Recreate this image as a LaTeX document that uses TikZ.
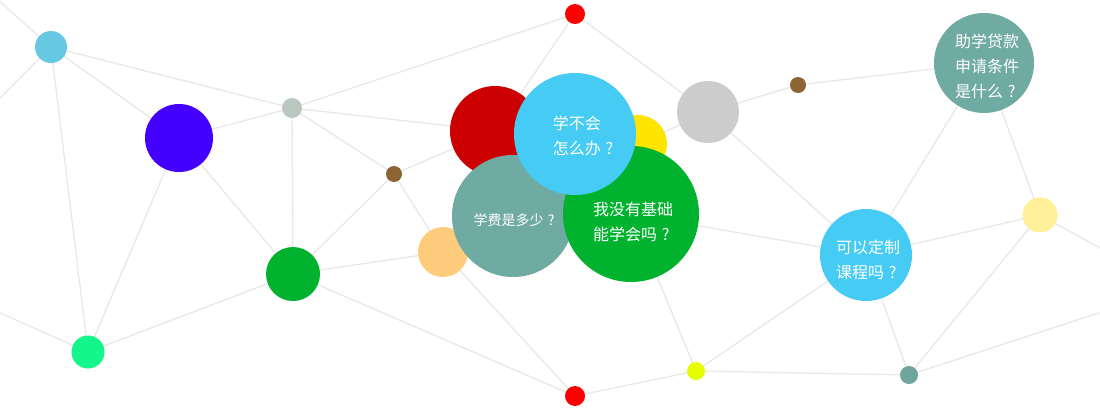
\documentclass[tikz,border=0pt]{standalone}
\usepackage{fontspec}
\newfontfamily\cjk{Noto Sans CJK SC}
\pgfdeclarelayer{bg}
\pgfdeclarelayer{edges}
\pgfsetlayers{bg,edges,main}
\definecolor{cA}{RGB}{102,200,226}
\definecolor{cB}{RGB}{68,0,255}
\definecolor{cC}{RGB}{184,200,192}
\definecolor{cBrown}{RGB}{139,101,52}
\definecolor{cGreen}{RGB}{0,178,46}
\definecolor{cMint}{RGB}{20,245,140}
\definecolor{cOrange}{RGB}{255,203,125}
\definecolor{cRed}{RGB}{255,0,0}
\definecolor{cDarkRed}{RGB}{204,0,0}
\definecolor{cYellow}{RGB}{255,228,0}
\definecolor{cCyan}{RGB}{69,203,244}
\definecolor{cTeal}{RGB}{111,171,163}
\definecolor{cGray}{RGB}{204,204,204}
\definecolor{cLime}{RGB}{229,255,0}
\definecolor{cPale}{RGB}{255,240,154}
\definecolor{cTealS}{RGB}{111,165,156}
\definecolor{cLine}{RGB}{232,232,232}
\newcommand\qm{\hspace{0.3em}?}
\tikzset{
  dot/.style args={#1/#2}{circle,fill=#1,draw=none,inner sep=0pt,minimum size=#2},
  link/.style={draw=cLine,line width=1.3pt},
  qtext/.style={text=white,align=left,inner sep=0pt,font=\cjk\fontsize{16}{25}\selectfont},
  qsmall/.style={text=white,align=left,inner sep=0pt,font=\cjk\fontsize{14}{20}\selectfont}
}
\begin{document}
\begin{tikzpicture}[x=1pt,y=-1pt]
\useasboundingbox (0,0) rectangle (1100,410);
\begin{pgfonlayer}{bg}
\fill[white] (0,0) rectangle (1100,410);
\end{pgfonlayer}
% small / plain circles
\node[dot=cA/32pt] (A) at (51,47) {};
\node[dot=cB/68pt] (B) at (179,138) {};
\node[dot=cC/20pt] (C) at (292,108) {};
\node[dot=cBrown/16pt] (D) at (394,174) {};
\node[dot=cGreen/54pt] (E) at (293,274) {};
\node[dot=cMint/33pt] (F) at (88,352) {};
\node[dot=cOrange/50pt] (G) at (443,252) {};
\node[dot=cRed/20pt] (H) at (575,14) {};
\node[dot=cGray/62pt] (N) at (708,112) {};
\node[dot=cRed/20pt] (O) at (575,396) {};
\node[dot=cLime/18pt] (P) at (696,371) {};
\node[dot=cBrown/16pt] (Q) at (798,85) {};
\node[dot=cPale/35pt] (T) at (1040,215) {};
\node[dot=cTealS/18pt] (U) at (909,375) {};
\node[dot=cTeal/100pt] (R) at (984,63) {};
\node[dot=cCyan/92pt] (S) at (866,255) {};
% cluster
\node[dot=cDarkRed/90pt] (I) at (495,131) {};
\node[dot=cYellow/58pt] (J) at (638,144) {};
\node[dot=cTeal/122pt] (L) at (513,216) {};
\node[dot=cGreen/136pt] (M) at (631,214) {};
\node[dot=cCyan/122pt] (K) at (575,134) {};
% texts
\node[qtext] (Kt) at (583,136) {学不会\\怎么办\qm};
\node[qtext] (Mt) at (633,222) {我没有基础\\能学会吗\qm};
\node[qsmall] (Lt) at (514,220) {学费是多少\qm};
\node[qtext] (Rt) at (987,66) {助学贷款\\申请条件\\是什么\qm};
\node[qtext] (St) at (868,260) {可以定制\\课程吗\qm};
% off-canvas ends
\coordinate (oA1) at (-20,-16);
\coordinate (oA2) at (-20,118);
\coordinate (oF) at (-20,304);
\coordinate (oT) at (1120,259);
\coordinate (oU) at (1120,306);
\begin{pgfonlayer}{edges}
\draw[link] (A.center) -- (oA1);
\draw[link] (A.center) -- (oA2);
\draw[link] (F.center) -- (oF);
\draw[link] (T.center) -- (oT);
\draw[link] (U.center) -- (oU);
\foreach \a/\b in {A/C,A/B,A/F,B/C,B/E,B/F,C/E,C/D,C/H,C/I,D/E,D/I,D/G,E/G,E/O,E/F,
  H/I,H/N,N/Q,J/N,N/S,M/S,M/P,G/O,O/P,Q/R,R/S,R/T,S/T,S/U,S/P,P/U,T/U}
  \draw[link] (\a.center) -- (\b.center);
\end{pgfonlayer}
\end{tikzpicture}
\end{document}
